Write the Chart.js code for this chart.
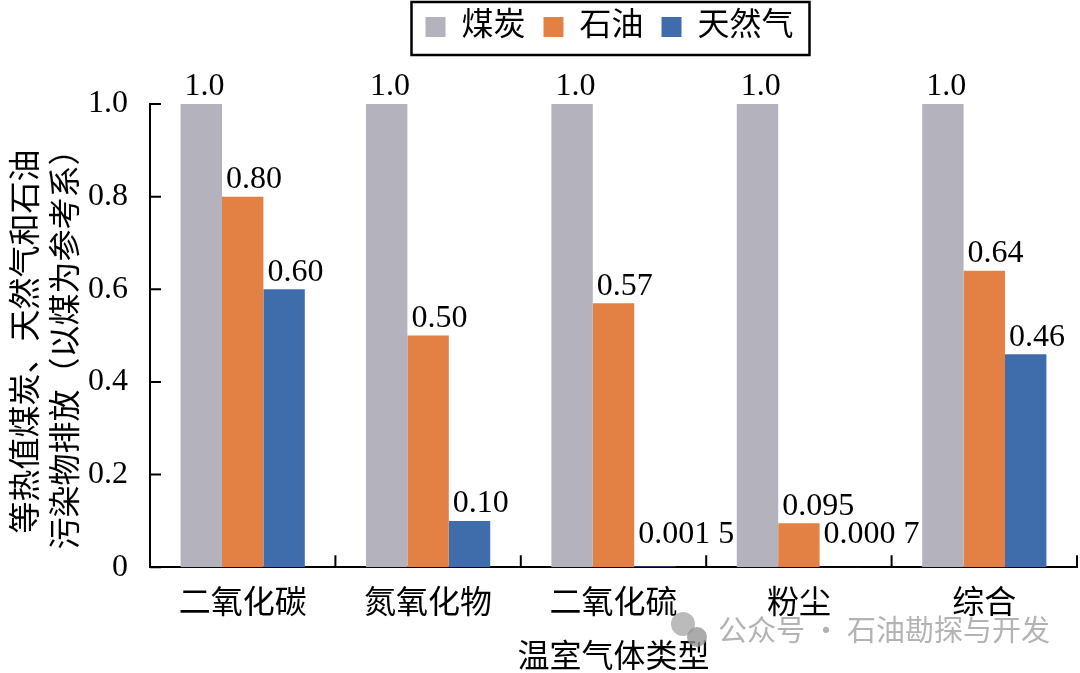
<!DOCTYPE html>
<html lang="zh-CN">
<head>
    <meta charset="UTF-8">
    <title>等热值煤炭、天然气和石油污染物排放</title>
    <script src="https://cdn.jsdelivr.net/npm/chart.js"></script>
    <style>
        html, body { margin: 0; padding: 0; background: #fff; }
        .wrap { width: 1080px; height: 673px; }
    </style>
</head>
<body>
    <div class="wrap"><canvas id="emissionChart"></canvas></div>

    <script>
        // 数据
        const categories = ['二氧化碳', '氮氧化物', '二氧化硫', '粉尘', '综合'];
        const seriesNames = ['煤炭', '石油', '天然气'];
        const coal = [1.0, 1.0, 1.0, 1.0, 1.0];
        const oil = [0.80, 0.50, 0.57, 0.095, 0.64];
        const gas = [0.60, 0.10, 0.0015, 0.0007, 0.46];
        const coalLabels = ['1.0', '1.0', '1.0', '1.0', '1.0'];
        const oilLabels = ['0.80', '0.50', '0.57', '0.095', '0.64'];
        const gasLabels = ['0.60', '0.10', '0.001 5', '0.000 7', '0.46'];
        const yTickLabels = ['0', '0.2', '0.4', '0.6', '0.8', '1.0'];
        const yTitleLines = ['等热值煤炭、天然气和石油', '污染物排放（以煤为参考系）'];

        const colors = ['#b4b3bd', '#e38043', '#3f6dab'];
        const FONT = '"Liberation Serif", "Noto Sans CJK SC", serif';

        // 内侧刻度线、数值标签、纵轴标题、图例边框、水印
        const extras = {
            id: 'extras',
            beforeInit(chart) {
                // 图例下方留出空间
                const fit = chart.legend.fit;
                chart.legend.fit = function () {
                    fit.call(this);
                    this.height += 51;
                };
            },
            afterLayout(chart) {
                // 图例整体右移
                chart.legend.left += 34;
                chart.legend.right += 34;
            },
            afterDatasetsDraw(chart) {
                const ctx = chart.ctx;
                const labelSets = [coalLabels, oilLabels, gasLabels];
                ctx.save();
                ctx.fillStyle = '#000';
                ctx.font = '32px ' + FONT;
                ctx.textAlign = 'left';
                ctx.textBaseline = 'bottom';
                chart.data.datasets.forEach((ds, i) => {
                    chart.getDatasetMeta(i).data.forEach((bar, j) => {
                        const top = Math.min(bar.y, bar.base - 16);
                        ctx.fillText(labelSets[i][j], bar.x - bar.width / 2 + 4, top - 1);
                    });
                });
                ctx.restore();
            },
            afterDraw(chart) {
                const ctx = chart.ctx;
                const area = chart.chartArea;
                const x = chart.scales.x;
                const y = chart.scales.y;
                ctx.save();
                ctx.strokeStyle = '#000';
                ctx.lineWidth = 2;
                ctx.beginPath();
                y.ticks.forEach(t => {
                    const py = y.getPixelForValue(t.value);
                    ctx.moveTo(area.left, py);
                    ctx.lineTo(area.left + 11, py);
                });
                const step = (area.right - area.left) / categories.length;
                for (let i = 1; i <= categories.length; i++) {
                    const px = x.getPixelForValue(i - 1) + step / 2;
                    ctx.moveTo(px, area.bottom);
                    ctx.lineTo(px, area.bottom - 12);
                }
                ctx.stroke();

                // 纵轴标题
                ctx.fillStyle = '#000';
                ctx.font = '32px ' + FONT;
                ctx.textAlign = 'center';
                ctx.textBaseline = 'middle';
                const cy = (area.top + area.bottom) / 2 + 6;
                yTitleLines.forEach((line, i) => {
                    ctx.save();
                    ctx.translate(area.left - 122 + i * 40, cy);
                    ctx.rotate(-Math.PI / 2);
                    ctx.fillText(line, 0, 0);
                    ctx.restore();
                });

                // 图例边框
                const boxes = chart.legend.legendHitBoxes;
                if (boxes && boxes.length) {
                    const l = Math.min(...boxes.map(b => b.left)) - 14;
                    const r = Math.max(...boxes.map(b => b.left + b.width)) + 16;
                    const t = Math.min(...boxes.map(b => b.top)) - 9;
                    const b = Math.max(...boxes.map(b => b.top + b.height)) + 12;
                    ctx.lineWidth = 2.5;
                    ctx.strokeRect(l, t, r - l, b - t);
                }

                // 水印
                ctx.fillStyle = 'rgba(170,170,170,0.8)';
                ctx.beginPath();
                ctx.arc(683, 624, 12, 0, Math.PI * 2);
                ctx.fill();
                ctx.fillStyle = 'rgba(150,150,150,0.8)';
                ctx.beginPath();
                ctx.arc(697, 637, 10, 0, Math.PI * 2);
                ctx.fill();
                ctx.fillStyle = 'rgba(160,160,160,0.8)';
                ctx.font = '29px "Noto Sans CJK SC", sans-serif';
                ctx.textAlign = 'left';
                ctx.textBaseline = 'middle';
                ctx.fillText('公众号 · 石油勘探与开发', 718, 630);
                ctx.restore();
            }
        };

        new Chart(document.getElementById('emissionChart'), {
            type: 'bar',
            data: {
                labels: categories,
                datasets: [
                    { label: seriesNames[0], data: coal, backgroundColor: colors[0] },
                    { label: seriesNames[1], data: oil, backgroundColor: colors[1] },
                    { label: seriesNames[2], data: gas, backgroundColor: colors[2] }
                ]
            },
            options: {
                responsive: true,
                maintainAspectRatio: false,
                animation: false,
                devicePixelRatio: 1,
                datasets: {
                    bar: { categoryPercentage: 0.67, barPercentage: 1.0, borderWidth: 0 }
                },
                layout: { padding: { left: 74, right: 3, top: -7, bottom: -5 } },
                plugins: {
                    tooltip: { enabled: false },
                    legend: {
                        position: 'top',
                        labels: {
                            boxWidth: 20,
                            boxHeight: 20,
                            padding: 18,
                            color: '#000',
                            font: { family: FONT, size: 32 }
                        }
                    }
                },
                scales: {
                    x: {
                        offset: true,
                        grid: { display: false },
                        border: { display: true, color: '#000', width: 2 },
                        ticks: { color: '#000', padding: 10, font: { family: FONT, size: 32 } },
                        title: {
                            display: true,
                            text: '温室气体类型',
                            color: '#000',
                            padding: { top: 6, bottom: 0 },
                            font: { family: FONT, size: 32 }
                        }
                    },
                    y: {
                        min: 0,
                        max: 1.0,
                        grid: { display: false },
                        border: { display: true, color: '#000', width: 2 },
                        ticks: {
                            stepSize: 0.2,
                            color: '#000',
                            padding: 14,
                            font: { family: FONT, size: 32 },
                            callback: (v, i) => yTickLabels[i]
                        }
                    }
                }
            },
            plugins: [extras]
        });
    </script>
</body>
</html>
